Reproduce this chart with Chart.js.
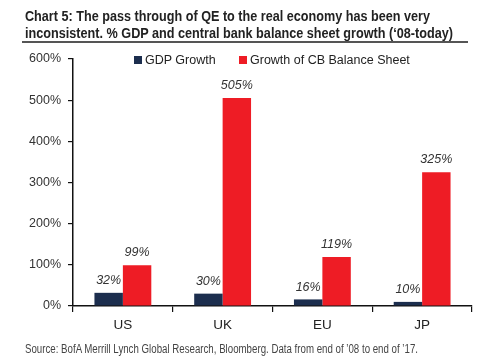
<!DOCTYPE html>
<html>
<head>
<meta charset="utf-8">
<script src="https://cdn.jsdelivr.net/npm/chart.js@4/dist/chart.umd.min.js"></script>
<style>
  html, body { margin: 0; padding: 0; background: #fff; }
  #wrap { position: relative; width: 500px; height: 362px; overflow: hidden; }
  .tl { position: absolute; left: 25px; font-family: "Liberation Sans", Arial, sans-serif; font-weight: bold; font-size: 15px; line-height: 17px; color: #222; white-space: nowrap; transform-origin: 0 0; }
  #rule { position: absolute; left: 22px; top: 41px; width: 446px; height: 2px; background: #555; }
  #legend { position: absolute; top: 53px; left: 0; font-family: "Liberation Sans", Arial, sans-serif; font-size: 12.5px; color: #222; }
  .li { position: absolute; white-space: nowrap; }
  .box { display: inline-block; width: 8px; height: 8px; margin-right: 3px; vertical-align: 0px; }
  #source { position: absolute; left: 25px; top: 342px; font-family: "Liberation Sans", Arial, sans-serif; font-size: 12px; color: #444; white-space: nowrap; transform-origin: 0 0; }
  canvas { position: absolute; left: 0; top: 0; }
</style>
</head>
<body>
<div id="wrap">
  <canvas id="c" width="500" height="362"></canvas>
  <div class="tl" id="t1" style="top:7px">Chart 5: The pass through of QE to the real economy has been very</div>
  <div class="tl" id="t2" style="top:24px">inconsistent. % GDP and central bank balance sheet growth (‘08-today)</div>
  <div id="rule"></div>
  <div id="legend"></div>
  <div id="source">Source:  BofA Merrill Lynch Global Research, Bloomberg. Data from end of ’08 to end of ’17.</div>
</div>
<script>
const categories = ["US", "UK", "EU", "JP"];
const gdpGrowth = [32, 30, 16, 10];
const cbGrowth = [99, 505, 119, 325];
const seriesNames = ["GDP Growth", "Growth of CB Balance Sheet"];
const yTicks = [0, 100, 200, 300, 400, 500, 600];

const NAVY = "#1c2e4e";
const RED = "#ee1c25";

function fitWidth(id, w) {
  const el = document.getElementById(id);
  const nat = el.getBoundingClientRect().width;
  el.style.transform = "scaleX(" + (w / nat) + ")";
}
fitWidth("t1", 405);
fitWidth("t2", 428);
fitWidth("source", 393);

// HTML legend
const legend = document.getElementById("legend");
[[seriesNames[0], NAVY, 134], [seriesNames[1], RED, 239]].forEach(([n, c, x]) => {
  const d = document.createElement("div");
  d.className = "li";
  d.style.left = x + "px";
  d.innerHTML = '<span class="box" style="background:' + c + '"></span>' + n;
  legend.appendChild(d);
});

const labelPlugin = {
  id: "barLabels",
  afterDatasetsDraw(chart) {
    const ctx = chart.ctx;
    ctx.save();
    ctx.font = "italic 12.5px 'Liberation Sans', Arial, sans-serif";
    ctx.fillStyle = "#333";
    ctx.textAlign = "center";
    ctx.textBaseline = "bottom";
    chart.data.datasets.forEach((ds, i) => {
      const meta = chart.getDatasetMeta(i);
      meta.data.forEach((bar, j) => {
        ctx.fillText(ds.data[j] + "%", bar.x, bar.y - 6);
      });
    });
    ctx.restore();
  }
};

new Chart(document.getElementById("c"), {
  type: "bar",
  data: {
    labels: categories,
    datasets: [
      { label: seriesNames[0], data: gdpGrowth, backgroundColor: NAVY },
      { label: seriesNames[1], data: cbGrowth, backgroundColor: RED }
    ]
  },
  options: {
    responsive: false,
    animation: false,
    devicePixelRatio: 1,
    layout: { padding: { left: 0, top: 59, right: 28, bottom: 0 } },
    datasets: { bar: { categoryPercentage: 0.57, barPercentage: 1 } },
    plugins: { legend: { display: false }, tooltip: { enabled: false } },
    scales: {
      x: {
        grid: { offset: true, drawOnChartArea: false, drawTicks: true, tickLength: 6, color: "#111", lineWidth: 1.2 },
        border: { display: true, color: "#111", width: 1.5 },
        ticks: { color: "#222", font: { family: "'Liberation Sans', Arial, sans-serif", size: 13.5 }, padding: 5 },
        afterFit(s) { s.height = 56; }
      },
      y: {
        min: 0, max: 600,
        afterBuildTicks(s) { s.ticks = yTicks.map(v => ({ value: v })); },
        grid: { drawOnChartArea: false, drawTicks: true, tickLength: 5, color: "#111", lineWidth: 1.2 },
        border: { display: true, color: "#111", width: 1.5 },
        ticks: { color: "#333", font: { family: "'Liberation Sans', Arial, sans-serif", size: 12.5 }, padding: 7, callback: v => v + "%" },
        afterFit(s) { s.width = 73; }
      }
    }
  },
  plugins: [labelPlugin]
});
</script>
</body>
</html>
